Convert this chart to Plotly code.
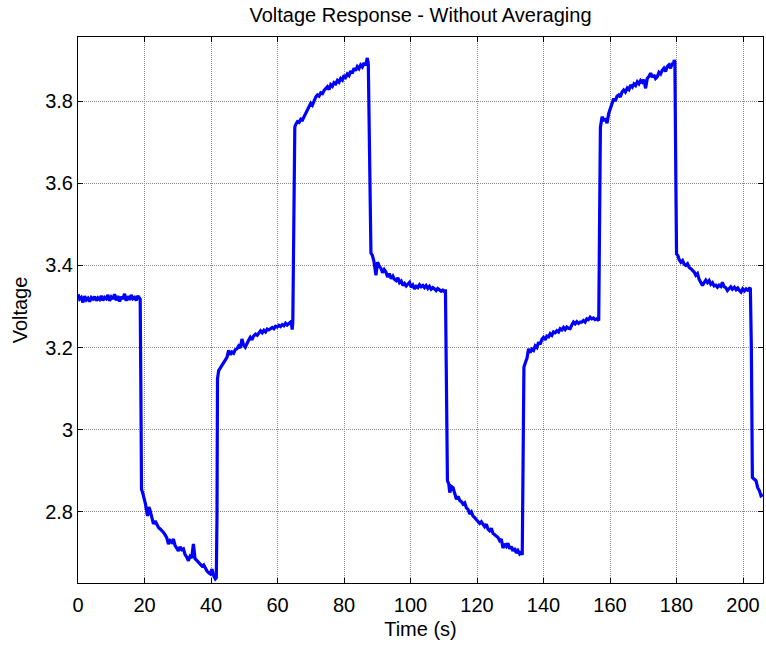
import plotly.graph_objects as go

# Time (s) and voltage
time_s = [
    0, 0.5, 1, 1.5, 2, 2.5, 3, 3.5, 4, 4.5, 5, 5.5, 6, 6.5, 7, 7.5, 8, 8.5, 9, 9.5,
    10, 10.5, 11, 11.5, 12, 12.5, 13, 13.5, 14, 14.5, 15, 15.5, 16, 16.5, 17, 17.5, 18, 18.5, 18.7,
    18.9, 19.1,
    19.5, 20.0, 20.3, 20.9, 21.3, 21.6, 22.0, 22.7, 23.2, 23.7, 24.2, 24.8, 25.3, 25.7, 26.2, 26.7,
    27.2, 27.7, 28.2, 28.7, 29.2, 29.7, 30.2, 30.7, 31.2, 31.7, 32.2, 32.7, 33.2, 33.7, 34.2, 34.7,
    35.2, 35.7, 36.3, 36.8, 37.3, 37.8, 38.3, 38.8, 39.3, 39.8, 40.3, 40.8, 41.3, 41.6,
    41.8, 41.95,
    42.3, 42.8, 43.3, 43.8, 44.3, 44.8, 45.3, 45.8, 46.3, 46.8, 47.3, 47.8, 48.3, 48.8, 49.3, 49.8,
    50.3, 50.8, 51.3, 51.8, 52.3, 52.8, 53.4, 53.9, 54.4, 54.9, 55.4, 55.9, 56.4, 56.9, 57.4, 57.9,
    58.4, 58.9, 59.4, 59.9, 60.4, 60.9, 61.4, 61.9, 62.4, 62.9, 63.4, 63.9, 64.2, 64.4, 64.6,
    65.0, 65.2,
    65.6, 66, 66.5, 67, 67.5, 68, 68.5, 69, 69.5, 70, 70.5, 71, 71.5, 72, 72.5, 73, 73.5, 74, 74.5,
    75, 75.5, 76, 76.5, 77, 77.5, 78, 78.5, 79, 79.5, 80, 80.5, 81, 81.5, 82, 82.5, 83, 83.5, 84,
    84.5, 85, 85.5, 86, 86.5, 87, 87.3,
    87.6, 87.9, 88.1,
    88.5, 89.0, 89.6, 90.1, 90.6, 91.1, 91.6, 92.1, 92.6, 93.1, 93.6, 94.2, 94.7, 95.2, 95.7, 96.2,
    96.7, 97.2, 97.7, 98.2, 98.7, 99.2, 99.7, 100.2, 100.7, 101.2, 101.7, 102.2, 102.7, 103.2,
    103.7, 104.2, 104.7, 105.2, 105.7, 106.2, 106.7, 107.2, 107.7, 108.2, 108.7, 109.2, 109.7,
    110.3, 110.5,
    110.8, 111.1,
    111.5, 111.8, 112.3, 112.8, 113.3, 113.8, 114.3, 114.8, 115.3, 115.8, 116.3, 116.8, 117.3,
    117.8, 118.3, 118.8, 119.3, 119.8, 120.3, 120.8, 121.3, 121.8, 122.3, 122.8, 123.3, 123.8,
    124.3, 124.8, 125.3, 125.8, 126.3, 126.8, 127.3, 127.8, 128.3, 128.8, 129.3, 129.8, 130.3,
    130.8, 131.3, 131.8, 132.3, 132.8, 133.3, 133.6,
    133.8, 133.9,
    134.1, 134.6, 135.0, 135.5, 136, 136.5, 137, 137.5, 138, 138.5, 139, 139.5, 140, 140.5, 141,
    141.5, 142, 142.5, 143, 143.5, 144, 144.5, 145, 145.5, 146, 146.5, 147, 147.5, 148, 148.5,
    149, 149.5, 150, 150.5, 151, 151.5, 152, 152.5, 153, 153.5, 154, 154.5, 155, 155.5, 156, 156.6,
    156.8, 157.1,
    157.6, 158.1, 158.6, 159.1, 159.6, 160.1, 160.6, 161.1, 161.6, 162.1, 162.6, 163.1, 163.6,
    164.1, 164.6, 165.2, 165.7, 166.2, 166.7, 167.2, 167.7, 168.2, 168.7, 169.2, 169.7, 170.2,
    170.7, 171.2, 171.7, 172.2, 172.7, 173.2, 173.7, 174.2, 174.7, 175.2, 175.7, 176.2, 176.7,
    177.2, 177.7, 178.2, 178.7, 179.0, 179.3, 179.5,
    179.8, 180.0,
    180.4, 180.8, 181.3, 181.8, 182.3, 182.8, 183.3, 183.8, 184.3, 184.8, 185.3, 185.8, 186.3,
    186.8, 187.3, 187.8, 188.3, 188.8, 189.3, 189.8, 190.3, 190.8, 191.3, 191.8, 192.3, 192.8,
    193.3, 193.8, 194.3, 194.8, 195.3, 195.8, 196.3, 196.8, 197.4, 197.9, 198.4, 198.9, 199.4,
    199.9, 200.4, 200.9, 201.4, 201.9, 202.2,
    202.5, 202.8,
    203.3, 203.9, 204.4, 204.9, 205.4, 206.0,
]

voltage = [
    3.330, 3.318, 3.322, 3.310, 3.325, 3.316, 3.320, 3.312, 3.322, 3.318, 3.324, 3.314, 3.321,
    3.317, 3.326, 3.315, 3.322, 3.319, 3.328, 3.314, 3.323, 3.318, 3.330, 3.315, 3.326, 3.312,
    3.324, 3.318, 3.331, 3.314, 3.325, 3.316, 3.328, 3.319, 3.322, 3.315, 3.326, 3.322, 3.318,
    3.100, 2.855,
    2.845, 2.828, 2.819, 2.790, 2.812, 2.806, 2.792, 2.771, 2.778, 2.768, 2.762, 2.758, 2.754,
    2.750, 2.744, 2.737, 2.722, 2.730, 2.726, 2.734, 2.718, 2.713, 2.705, 2.715, 2.708, 2.710,
    2.696, 2.690, 2.681, 2.692, 2.688, 2.722, 2.686, 2.682, 2.677, 2.674, 2.668, 2.671, 2.661,
    2.656, 2.652, 2.649, 2.661, 2.645, 2.637, 2.640,
    2.795, 3.124,
    3.144, 3.150, 3.156, 3.162, 3.168, 3.176, 3.193, 3.183, 3.189, 3.186, 3.195, 3.197, 3.204,
    3.199, 3.221, 3.206, 3.201, 3.212, 3.218, 3.225, 3.219, 3.228, 3.233, 3.230, 3.237, 3.241,
    3.236, 3.242, 3.238, 3.245, 3.243, 3.247, 3.249, 3.246, 3.252, 3.250, 3.254, 3.251, 3.256,
    3.253, 3.259, 3.255, 3.260, 3.262, 3.258, 3.244, 3.262,
    3.550, 3.737,
    3.745, 3.750, 3.748, 3.756, 3.754, 3.762, 3.770, 3.778, 3.786, 3.795, 3.790, 3.802, 3.810,
    3.815, 3.812, 3.820, 3.818, 3.826, 3.830, 3.835, 3.828, 3.840, 3.836, 3.845, 3.842, 3.850,
    3.846, 3.855, 3.851, 3.863, 3.858, 3.866, 3.862, 3.873, 3.868, 3.880, 3.874, 3.884, 3.879,
    3.888, 3.883, 3.893, 3.887, 3.905, 3.892,
    3.720, 3.600, 3.430,
    3.425, 3.410, 3.376, 3.408, 3.398, 3.393, 3.382, 3.390, 3.384, 3.372, 3.380, 3.368, 3.374,
    3.366, 3.363, 3.370, 3.358, 3.362, 3.351, 3.356, 3.350, 3.354, 3.359, 3.347, 3.352, 3.343,
    3.349, 3.346, 3.353, 3.348, 3.351, 3.346, 3.351, 3.344, 3.349, 3.342, 3.346, 3.343, 3.339,
    3.344, 3.341, 3.337, 3.340, 3.335, 3.342,
    3.100, 2.876,
    2.868, 2.847, 2.862, 2.859, 2.845, 2.831, 2.838, 2.828, 2.825, 2.819, 2.822, 2.810, 2.806,
    2.795, 2.800, 2.790, 2.786, 2.782, 2.778, 2.772, 2.776, 2.768, 2.764, 2.770, 2.758, 2.754,
    2.760, 2.748, 2.745, 2.740, 2.738, 2.730, 2.734, 2.712, 2.722, 2.716, 2.724, 2.710, 2.716,
    2.705, 2.712, 2.700, 2.706, 2.698, 2.702, 2.695,
    2.920, 3.112,
    3.152, 3.165, 3.173, 3.197, 3.188, 3.196, 3.193, 3.204, 3.200, 3.213, 3.208, 3.220, 3.225,
    3.219, 3.228, 3.226, 3.234, 3.230, 3.238, 3.236, 3.241, 3.238, 3.246, 3.243, 3.249, 3.244,
    3.250, 3.247, 3.246, 3.255, 3.262, 3.258, 3.263, 3.259, 3.262, 3.262, 3.266, 3.262, 3.270,
    3.268, 3.274, 3.270, 3.272, 3.268, 3.270, 3.266,
    3.520, 3.736,
    3.762, 3.752, 3.758, 3.746, 3.770, 3.783, 3.795, 3.806, 3.800, 3.812, 3.815, 3.810, 3.822,
    3.827, 3.822, 3.832, 3.828, 3.839, 3.834, 3.842, 3.838, 3.847, 3.842, 3.850, 3.846, 3.852,
    3.831, 3.855, 3.860, 3.868, 3.858, 3.864, 3.855, 3.859, 3.870, 3.866, 3.875, 3.880, 3.872,
    3.884, 3.888, 3.880, 3.893, 3.886, 3.900, 3.895,
    3.600, 3.428,
    3.424, 3.414, 3.408, 3.412, 3.403, 3.400, 3.404, 3.395, 3.392, 3.388, 3.384, 3.376, 3.380,
    3.366, 3.360, 3.351, 3.358, 3.364, 3.358, 3.363, 3.354, 3.358, 3.350, 3.352, 3.347, 3.352,
    3.349, 3.359, 3.348, 3.346, 3.339, 3.344, 3.348, 3.342, 3.347, 3.341, 3.345, 3.339, 3.335,
    3.343, 3.338, 3.343, 3.340, 3.344, 3.343,
    3.200, 2.884,
    2.880, 2.876, 2.859, 2.852, 2.839, 2.842,
]

x_ticks = [0, 20, 40, 60, 80, 100, 120, 140, 160, 180, 200]
y_ticks = [2.8, 3.0, 3.2, 3.4, 3.6, 3.8]
y_tick_labels = ["2.8", "3", "3.2", "3.4", "3.6", "3.8"]

fig = go.Figure()
fig.add_trace(go.Scatter(
    x=time_s, y=voltage, mode="lines",
    line=dict(color="#0000FF", width=3.2),
    showlegend=False,
))

font = dict(family="Arial, 'Liberation Sans', sans-serif", size=20, color="#000000")

axis_common = dict(
    showline=True, linecolor="#000000", linewidth=1, mirror="ticks",
    ticks="inside", ticklen=5, tickcolor="#000000", tickwidth=1,
    showgrid=True, gridcolor="#8a8a8a", gridwidth=1, griddash="1px,1px",
    zeroline=False, tickfont=font,
)

fig.update_layout(
    width=766, height=647,
    paper_bgcolor="#ffffff", plot_bgcolor="#ffffff",
    margin=dict(l=78, r=3, t=37, b=64),
    font=font,
    title=dict(
        text="Voltage Response - Without Averaging",
        font=dict(family="Arial, 'Liberation Sans', sans-serif", size=20, color="#000000"),
        x=(78 + 763) / 2 / 766, xanchor="center",
        y=1 - 15 / 647, yanchor="middle", yref="container",
    ),
    xaxis=dict(
        range=[0, 206], tickvals=x_ticks, ticklabelstandoff=4,
        title=dict(text="Time (s)", font=font, standoff=6),
        **axis_common,
    ),
    yaxis=dict(
        range=[2.627, 3.956], tickvals=y_ticks, ticktext=y_tick_labels,
        title=dict(text="Voltage", font=font, standoff=12),
        **axis_common,
    ),
)

fig.write_html("out.html")
